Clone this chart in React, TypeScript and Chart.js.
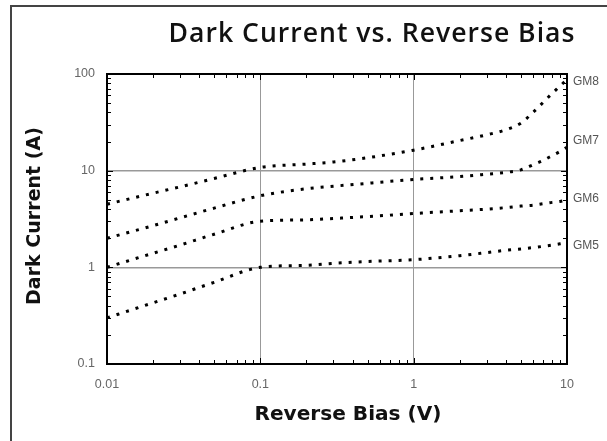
import React, { useEffect, useRef } from "react";
import { Chart, registerables } from "chart.js";

Chart.register(...registerables);

const TITLE = "Dark Current vs. Reverse Bias";
const X_TITLE = "Reverse Bias (V)";
const Y_TITLE = "Dark Current (A)";

const X_TICKS = [0.01, 0.1, 1, 10];
const Y_TICKS = [0.1, 1, 10, 100];

const BIAS = [0.01, 0.02, 0.03, 0.05, 0.1, 0.2, 0.3, 0.5, 1, 2, 3, 4, 5, 6, 7, 8, 9, 10];

const SERIES_NAMES = ["GM8", "GM7", "GM6", "GM5"];
const GM8 = [4.5, 5.85, 6.8, 8.3, 10.8, 11.7, 12.3, 13.6, 16.3, 20.5, 23.5, 26.5, 31, 40, 51, 63, 75, 88];
const GM7 = [2.0, 2.7, 3.25, 4.1, 5.5, 6.5, 6.9, 7.4, 8.1, 8.7, 9.2, 9.6, 10.2, 11.5, 12.8, 14.3, 15.8, 17.5];
const GM6 = [1.0, 1.4, 1.7, 2.2, 3.0, 3.1, 3.2, 3.35, 3.6, 3.85, 4.0, 4.15, 4.3, 4.4, 4.55, 4.7, 4.8, 4.95];
const GM5 = [0.3, 0.43, 0.53, 0.7, 1.0, 1.05, 1.1, 1.15, 1.2, 1.32, 1.42, 1.5, 1.55, 1.6, 1.65, 1.7, 1.75, 1.8];
const SERIES = [GM8, GM7, GM6, GM5];

const overlay = {
  id: "overlay",
  afterDraw(chart: any) {
    const ctx = chart.ctx as CanvasRenderingContext2D;
    const { left, right, top, bottom } = chart.chartArea;
    const xs = chart.scales.x;
    const ys = chart.scales.y;
    ctx.save();

    // outer border (left + top)
    ctx.strokeStyle = "#444";
    ctx.lineWidth = 2;
    ctx.beginPath();
    ctx.moveTo(11, 441);
    ctx.lineTo(11, 6);
    ctx.lineTo(607, 6);
    ctx.stroke();

    // minor/major inward ticks
    ctx.strokeStyle = "#000";
    ctx.lineWidth = 1;
    ctx.beginPath();
    for (let d = 0.01; d < 10; d *= 10) {
      for (let m = 1; m <= 9; m++) {
        const v = d * m;
        const px = Math.round(xs.getPixelForValue(v)) + 0.5;
        const len = m === 1 ? 6 : 4;
        ctx.moveTo(px, bottom);
        ctx.lineTo(px, bottom - len);
        ctx.moveTo(px, top);
        ctx.lineTo(px, top + len);
      }
    }
    for (let d = 0.1; d < 100; d *= 10) {
      for (let m = 1; m <= 9; m++) {
        const v = d * m;
        const py = Math.round(ys.getPixelForValue(v)) + 0.5;
        const len = m === 1 ? 6 : 4;
        ctx.moveTo(left, py);
        ctx.lineTo(left + len, py);
        ctx.moveTo(right, py);
        ctx.lineTo(right - len, py);
      }
    }
    ctx.stroke();

    // plot frame
    ctx.lineWidth = 2;
    ctx.strokeStyle = "#000";
    ctx.strokeRect(left, top, right - left, bottom - top);

    // series labels at right
    ctx.fillStyle = "#555";
    ctx.font = "12px 'Liberation Sans', Arial, sans-serif";
    ctx.textAlign = "left";
    ctx.textBaseline = "middle";
    const labelY = [82, 141, 199, 246];
    SERIES_NAMES.forEach((n, i) => {
      ctx.fillText(n, right + 6, labelY[i]);
    });

    // main title: size fitted to the reference width with slight tracking
    ctx.fillStyle = "#111";
    (ctx as any).letterSpacing = "1px";
    ctx.font = "600 24px 'Open Sans', 'DejaVu Sans', sans-serif";
    const tw = ctx.measureText(TITLE).width;
    const tsize = Math.min(27, (24 * 410) / tw);
    ctx.font = `600 ${tsize.toFixed(2)}px 'Open Sans', 'DejaVu Sans', sans-serif`;
    ctx.textAlign = "center";
    ctx.textBaseline = "middle";
    ctx.fillText(TITLE, 372, 34);
    (ctx as any).letterSpacing = "0px";

    // axis titles
    const fitFont = (text: string, target: number) => {
      ctx.font = "bold 18px 'DejaVu Sans', sans-serif";
      const w = ctx.measureText(text).width;
      const size = (18 * target) / w;
      ctx.font = `bold ${size.toFixed(2)}px 'DejaVu Sans', sans-serif`;
    };
    ctx.fillStyle = "#111";
    ctx.textAlign = "center";
    fitFont(X_TITLE, 187);
    ctx.fillText(X_TITLE, 348, 415);

    ctx.translate(35, 216);
    ctx.rotate(-Math.PI / 2);
    fitFont(Y_TITLE, 178);
    ctx.fillText(Y_TITLE, 0, 0);

    ctx.restore();
  },
};

export default function App() {
  const ref = useRef<HTMLCanvasElement | null>(null);
  useEffect(() => {
    if (!ref.current) return;
    const datasets = SERIES.map((s, i) => ({
      label: SERIES_NAMES[i],
      data: BIAS.map((x, j) => ({ x, y: s[j] })),
      borderColor: "#000",
      backgroundColor: "#000",
      borderWidth: 3,
      borderDash: [3, 7],
      borderCapStyle: "butt" as const,
      pointRadius: 0,
      cubicInterpolationMode: "monotone" as const,
      fill: false,
    }));
    const tickFont = { family: "'Liberation Sans', Arial, sans-serif", size: 12.5 };
    const chart = new Chart(ref.current, {
      type: "line",
      data: { datasets },
      options: {
        responsive: false,
        animation: false,
        layout: { padding: { top: 74, right: 40, left: 0, bottom: 0 } },
        plugins: { legend: { display: false }, title: { display: false }, tooltip: { enabled: false } },
        scales: {
          x: {
            type: "logarithmic",
            min: 0.01,
            max: 10,
            position: "bottom",
            afterBuildTicks: (s: any) => {
              s.ticks = X_TICKS.map((v) => ({ value: v }));
            },
            afterFit: (s: any) => {
              s.height = 77;
            },
            grid: { color: "#999", lineWidth: 1, drawTicks: false },
            border: { display: false },
            ticks: {
              padding: 13,
              color: "#666",
              font: tickFont,
              maxRotation: 0,
              autoSkip: false,
              callback: (v: any) => String(v),
            },
          },
          y: {
            type: "logarithmic",
            min: 0.1,
            max: 100,
            position: "left",
            afterBuildTicks: (s: any) => {
              s.ticks = Y_TICKS.map((v) => ({ value: v }));
            },
            afterFit: (s: any) => {
              s.width = 107;
            },
            grid: { color: "#999", lineWidth: 1.5, drawTicks: false },
            border: { display: false },
            ticks: {
              padding: 12,
              color: "#666",
              font: tickFont,
              autoSkip: false,
              callback: (v: any) => String(v),
            },
          },
        },
      },
      plugins: [overlay],
    });
    return () => chart.destroy();
  }, []);
  return (
    <div style={{ position: "absolute", left: 0, top: 0, width: 607, height: 441, background: "#fff" }}>
      <canvas ref={ref} width={607} height={441} style={{ display: "block" }} />
    </div>
  );
}
